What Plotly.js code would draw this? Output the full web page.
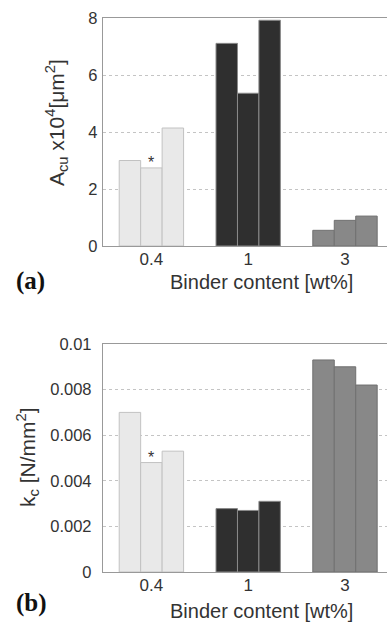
<!DOCTYPE html>
<html>
<head>
<meta charset="utf-8">
<script src="https://cdn.plot.ly/plotly-3.0.1.min.js"></script>
<style>html,body{margin:0;padding:0;background:#fff;}#plot{width:387px;height:623px;}</style>
</head>
<body>
<div id="plot"></div>
<script>
// Data
var categories = ["0.4", "1", "3"];
var areaRep1 = [3.0, 7.11, 0.55];
var areaRep2 = [2.74, 5.36, 0.90];
var areaRep3 = [4.14, 7.92, 1.05];
var kcRep1 = [0.0070, 0.00278, 0.0093];
var kcRep2 = [0.0048, 0.0027, 0.0090];
var kcRep3 = [0.0053, 0.0031, 0.0082];
var kcTickVals = [0, 0.002, 0.004, 0.006, 0.008, 0.01];
var kcTickText = ["0", "0.002", "0.004", "0.006", "0.008", "0.01"];
var areaTickVals = [0, 2, 4, 6, 8];

var groupColors = ["#e9e9e9", "#2f2f2f", "#888888"];
var groupLines = ["#c2c2c2", "#8a8a8a", "#707070"];
var xIdx = categories.map(function(c, i){ return i; });

function barTrace(vals, xa, ya) {
  return {
    type: "bar", x: xIdx, y: vals, xaxis: xa, yaxis: ya,
    marker: {color: groupColors, line: {color: groupLines, width: 1}},
    showlegend: false, hoverinfo: "none"
  };
}

var data = [
  barTrace(areaRep1, "x", "y"), barTrace(areaRep2, "x", "y"), barTrace(areaRep3, "x", "y"),
  barTrace(kcRep1, "x2", "y2"), barTrace(kcRep2, "x2", "y2"), barTrace(kcRep3, "x2", "y2")
];

var FAM = "Liberation Sans, Arial, sans-serif";
var txtCol = "#333";
var xTickFont = {family: FAM, size: 17, color: txtCol};
var yTickFont = {family: FAM, size: 16.5, color: txtCol};
var titleFont = {family: FAM, size: 20, color: txtCol};
var yTitleFont = {family: FAM, size: 21, color: txtCol};
var labFont = {family: "Liberation Serif, Times New Roman, serif", size: 25, color: "#111"};
var W = 387, H = 623;

function xAxis(anchor) {
  return {
    domain: [103 / W, 1], range: [-0.5, 2.434], anchor: anchor,
    tickvals: xIdx, ticktext: categories, ticks: "", showgrid: false, zeroline: false,
    showline: true, linecolor: "#999", linewidth: 1.2, mirror: true,
    tickfont: xTickFont, ticklabelstandoff: -3
  };
}
function yAxis(dom, rng, anchor, standoff) {
  return {
    domain: dom, range: rng, anchor: anchor, ticks: "", showgrid: true,
    gridcolor: "#c4c4c4", griddash: "dot", gridwidth: 1,
    zeroline: false, showline: true, linecolor: "#999", linewidth: 1.2,
    tickfont: yTickFont, ticklabelstandoff: standoff
  };
}

var ya = yAxis([1 - 246 / H, 1 - 18 / H], [0, 8], "x", 1);
ya.tickvals = areaTickVals;
var yb = yAxis([1 - 572 / H, 1 - 344 / H], [0, 0.01], "x2", 7);
yb.tickvals = kcTickVals; yb.ticktext = kcTickText;

var layout = {
  width: W, height: H,
  margin: {l: 0, r: 0, t: 0, b: 0},
  paper_bgcolor: "#fff", plot_bgcolor: "#fff",
  barmode: "group", bargap: 0.335, bargroupgap: 0,
  font: titleFont,
  xaxis: xAxis("y"), yaxis: ya,
  xaxis2: xAxis("y2"), yaxis2: yb,
  annotations: [
    {text: "A<sub>cu</sub> x10<sup>4</sup>[μm<sup>2</sup>]", xref: "paper", yref: "paper", x: 57 / W, y: 1 - 123 / H,
      textangle: -90, showarrow: false, xanchor: "center", yanchor: "middle", font: yTitleFont},
    {text: "k<sub>c</sub> [N/mm<sup>2</sup>]", xref: "paper", yref: "paper", x: 27 / W, y: 1 - 457 / H,
      textangle: -90, showarrow: false, xanchor: "center", yanchor: "middle", font: yTitleFont},
    {text: "Binder content [wt%]", xref: "paper", yref: "paper", x: 261 / W, y: 1 - 282 / H, showarrow: false, font: titleFont, xanchor: "center", yanchor: "middle"},
    {text: "Binder content [wt%]", xref: "paper", yref: "paper", x: 261 / W, y: 1 - 611 / H, showarrow: false, font: titleFont, xanchor: "center", yanchor: "middle"},
    {text: "<b>(a)</b>", xref: "paper", yref: "paper", x: 14 / W, y: 1 - 281 / H, showarrow: false, xanchor: "left", yanchor: "middle", font: labFont},
    {text: "<b>(b)</b>", xref: "paper", yref: "paper", x: 14 / W, y: 1 - 603 / H, showarrow: false, xanchor: "left", yanchor: "middle", font: labFont},
    {text: "*", xref: "x", yref: "y", x: xIdx[0], y: areaRep2[0], showarrow: false, yanchor: "bottom", yshift: -5,
      font: {family: FAM, size: 16, color: "#333"}},
    {text: "*", xref: "x2", yref: "y2", x: xIdx[0], y: kcRep2[0], showarrow: false, yanchor: "bottom", yshift: -5,
      font: {family: FAM, size: 16, color: "#333"}}
  ]
};

Plotly.newPlot("plot", data, layout, {displayModeBar: false, staticPlot: true});
</script>
</body>
</html>
